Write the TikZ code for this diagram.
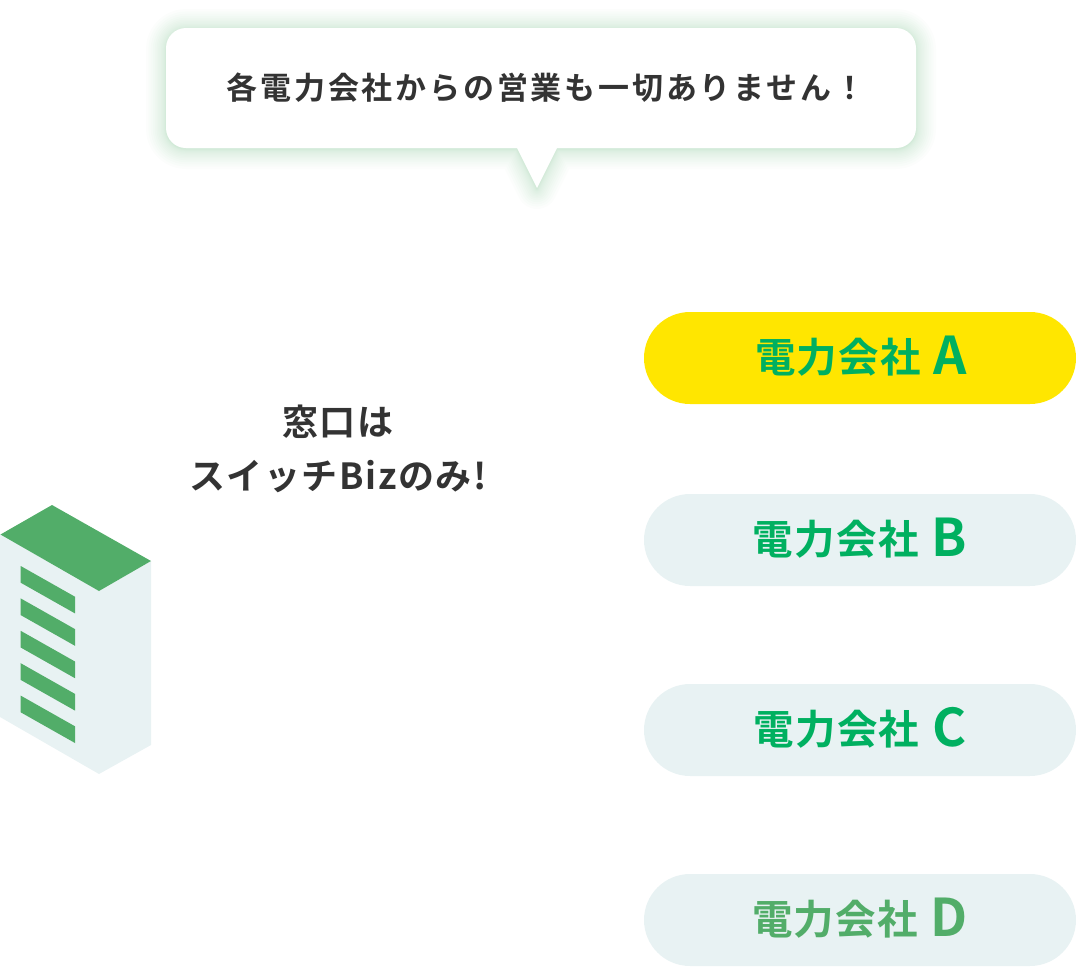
\documentclass[tikz,border=0pt]{standalone}
\usepackage{fontspec}
\setmainfont{Noto Sans CJK JP Bold}[LetterSpace=0]
\newfontfamily\jpb{Noto Sans CJK JP Bold}[LetterSpace=3]
\newfontfamily\jpbs{Noto Sans CJK JP Bold}[LetterSpace=9]
\newfontfamily\jpbt{Noto Sans CJK JP Bold}[LetterSpace=4.5]
\newfontfamily\jpl{Noto Sans CJK JP Bold}
\newcommand{\pilllabel}[1]{\raisebox{2.5pt}{電力会社}\hspace{13pt}{\jpl\fontsize{52}{52}\selectfont #1}}
\definecolor{pale}{HTML}{E8F2F3}
\definecolor{bgreen}{HTML}{52AD69}
\definecolor{tgreen}{HTML}{00B060}
\definecolor{yel}{HTML}{FFE600}
\definecolor{ink}{HTML}{333333}
\definecolor{glow}{HTML}{52AD69}
\tikzset{
  pillbox/.style={rounded corners=46pt,inner sep=0pt,minimum width=432pt,minimum height=92pt,fill=pale},
  pilltext/.style={text=tgreen,font=\jpb\fontsize{40.5}{40.5}\selectfont,inner sep=0pt},
  win/.style={fill=bgreen,draw=none},
  face/.style={fill=pale,draw=none}
}
\begin{document}
\begin{tikzpicture}[x=1pt,y=-1pt]
\useasboundingbox (0,0) rectangle (1080,970);
% callout glow
\def\bubble{(186,28) -- (896,28) arc[start angle=-90,end angle=0,radius=20] -- (916,128) arc[start angle=0,end angle=90,radius=20] -- (557,148) -- (537,188) -- (517,148) -- (186,148) arc[start angle=90,end angle=180,radius=20] -- (166,48) arc[start angle=180,end angle=270,radius=20] -- cycle}
\foreach \i in {16,15,...,1}{
  \pgfmathsetmacro{\w}{40*(\i/16)^2}
  \draw[glow,line width=\w pt,opacity=0.02,line join=round,yshift=-1pt] \bubble;
}
\fill[white] \bubble;
\node[text=ink,font=\jpbs\fontsize{31}{31}\selectfont,inner sep=0pt] (callout) at (546,88) {各電力会社からの営業も一切ありません！};
% building
\fill[face] (0,534) -- (99,591) -- (99,774) -- (0,717) -- cycle;
\fill[face] (99,591) -- (151,561) -- (151,745) -- (99,774) -- cycle;
\fill[bgreen] (0.5,534.5) -- (52,505) -- (151,561) -- (99,591) -- cycle;
\foreach \i in {0,...,4}{
  \fill[win,yshift=-32.4*\i pt] (20.7,566) -- (75,596.7) -- (75,613.4) -- (20.7,582.7) -- cycle;
}
% label
\node[text=ink,font=\jpbt\fontsize{36}{54}\selectfont,align=center,inner sep=0pt] (lead) at (338,448.5) {窓口は\\スイッチBizのみ!};
% pills
\node[pillbox,fill=yel] (a) at (860,358) {};
\node[pillbox] (b) at (860,540) {};
\node[pillbox] (c) at (860,730) {};
\node[pillbox] (d) at (860,920) {};
\node[pilltext] (ta) at (861,356) {\pilllabel{A}};
\node[pilltext] (tb) at (860,538) {\pilllabel{B}};
\node[pilltext] (tc) at (860,728) {\pilllabel{C}};
\node[pilltext,text=bgreen] (td) at (860,918) {\pilllabel{D}};
\end{tikzpicture}
\end{document}
